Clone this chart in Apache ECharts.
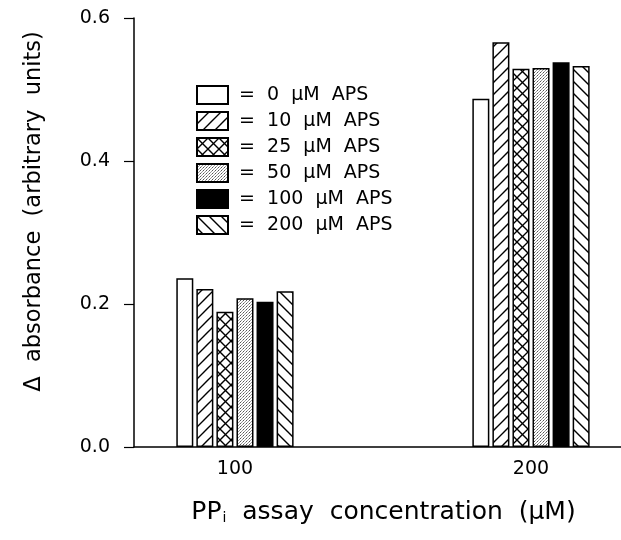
<!DOCTYPE html>
<html>
<head>
<meta charset="utf-8">
<script src="https://cdn.jsdelivr.net/npm/echarts@6/dist/echarts.min.js"></script>
<style>html,body{margin:0;padding:0;background:#fff}#c{width:621px;height:540px}</style>
</head>
<body>
<div id="c"></div>
<script>
// ---- data ----
const categories = [100, 200];           // PPi assay concentration (µM)
const seriesNames = ['0  µM  APS', '10  µM  APS', '25  µM  APS', '50  µM  APS', '100  µM  APS', '200  µM  APS'];
const aps0   = [0.236, 0.487];
const aps10  = [0.221, 0.566];
const aps25  = [0.189, 0.529];
const aps50  = [0.208, 0.530];
const aps100 = [0.203, 0.538];
const aps200 = [0.218, 0.533];

const FONT = '"DejaVu Sans", "Liberation Sans", sans-serif';

function makeCanvas(size, draw) {
  const c = document.createElement('canvas');
  c.width = size; c.height = size;
  const ctx = c.getContext('2d');
  ctx.fillStyle = '#fff'; ctx.fillRect(0, 0, size, size);
  ctx.strokeStyle = '#000'; ctx.lineWidth = 1.4; ctx.lineCap = 'square';
  draw(ctx, size);
  return c;
}
function fwd(ctx, s) { // "/"
  ctx.beginPath();
  for (let k = -1; k <= 1; k++) { ctx.moveTo(-1 + k * s, s + 1); ctx.lineTo(s + 1 + k * s, -1); }
  ctx.stroke();
}
function back(ctx, s) { // "\"
  ctx.beginPath();
  for (let k = -1; k <= 1; k++) { ctx.moveTo(-1 + k * s, -1); ctx.lineTo(s + 1 + k * s, s + 1); }
  ctx.stroke();
}
const patFwd = makeCanvas(12, fwd);
const patBack = makeCanvas(12, back);
const patCross = makeCanvas(11, (ctx, s) => { fwd(ctx, s); back(ctx, s); });
const patDots = (() => {
  const c = document.createElement('canvas'); c.width = 3; c.height = 3;
  const ctx = c.getContext('2d');
  ctx.fillStyle = '#fff'; ctx.fillRect(0, 0, 3, 3);
  ctx.fillStyle = '#555'; ctx.fillRect(0, 0, 1, 1);
  ctx.fillStyle = '#999'; ctx.fillRect(2, 1, 1, 1); ctx.fillRect(1, 2, 1, 1);
  return c;
})();

const fills = [
  '#ffffff',
  { image: patFwd, repeat: 'repeat' },
  { image: patCross, repeat: 'repeat' },
  { image: patDots, repeat: 'repeat' },
  '#000000',
  { image: patBack, repeat: 'repeat' }
];
const values = [aps0, aps10, aps25, aps50, aps100, aps200];

const series = seriesNames.map((name, i) => ({
  name: name,
  type: 'bar',
  barWidth: 17,
  barGap: '18%',
  itemStyle: { color: fills[i], borderColor: '#000', borderWidth: 1.5 },
  emphasis: { disabled: true },
  data: categories.map((c, j) => [c, values[i][j]])
}));

const chart = echarts.init(document.getElementById('c'), null, { renderer: 'canvas' });
chart.setOption({
  backgroundColor: '#fff',
  animation: false,
  grid: { left: 134, top: 18, right: 0, bottom: 93, containLabel: false },
  legend: {
    orient: 'vertical',
    left: 191, top: 80,
    itemWidth: 31, itemHeight: 18, itemGap: 6,
    icon: 'rect',
    formatter: n => ' =  ' + n,
    textStyle: { fontFamily: FONT, fontSize: 19, lineHeight: 20, color: '#000' },
    data: seriesNames
  },
  xAxis: {
    type: 'value',
    min: 65.9, max: 230.4,
    splitLine: { show: false },
    axisLine: { lineStyle: { color: '#000', width: 1.5 } },
    axisTick: { show: false },
    axisLabel: { customValues: categories, fontFamily: FONT, fontSize: 19, color: '#000', margin: 13 },
    name: '{a|PP}{s|i}{a|  assay  concentration  (µM)}',
    nameLocation: 'middle',
    nameGap: 53,
    nameTextStyle: {
      padding: [0, 0, 0, 12],
      rich: {
        a: { fontFamily: FONT, fontSize: 25, color: '#000' },
        s: { fontFamily: FONT, fontSize: 14, color: '#000', verticalAlign: 'bottom', padding: [11, 0, 0, 1] }
      }
    }
  },
  yAxis: {
    type: 'value',
    min: 0, max: 0.6, interval: 0.2,
    splitLine: { show: false },
    axisLine: { show: true, lineStyle: { color: '#000', width: 1.5 } },
    axisTick: { show: true, length: 10, lineStyle: { color: '#000', width: 1.2 } },
    axisLabel: { fontFamily: FONT, fontSize: 19, color: '#000', margin: 24, formatter: v => v.toFixed(1) },
    name: 'Δ  absorbance  (arbitrary  units)',
    nameLocation: 'middle',
    nameGap: 88,
    nameTextStyle: { fontFamily: FONT, fontSize: 22.5, color: '#000', padding: [0, 0, 0, 42] }
  },
  series: series
});
</script>
</body>
</html>
